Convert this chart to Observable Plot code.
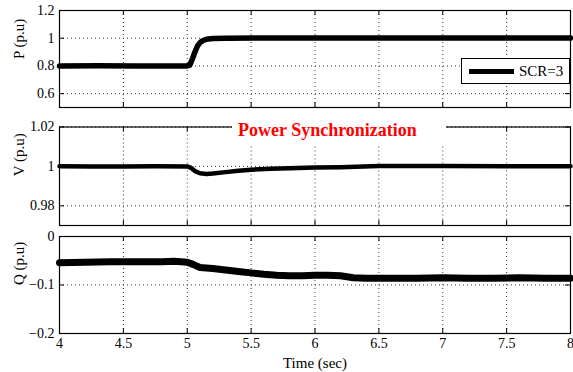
<!DOCTYPE html>
<html><head><meta charset="utf-8">
<script src="https://cdn.jsdelivr.net/npm/d3@7"></script>
<script src="https://cdn.jsdelivr.net/npm/@observablehq/plot@0.6"></script>
<style>
body{margin:0;background:#fff;}
#chart{position:relative;width:573px;height:372px;overflow:hidden;background:#fff;font-family:"Liberation Serif","Tinos","Times New Roman","DejaVu Serif",serif;}
#chart svg{position:absolute;left:0;}
#legend{position:absolute;left:461px;top:58px;width:107px;height:24px;border:1px solid #000;background:#fff;box-sizing:content-box;}
#legend .sw{position:absolute;left:7px;top:10px;width:45px;height:5px;background:#000;}
#legend .lt{position:absolute;left:57px;top:2px;font-size:15px;line-height:20px;color:#000;}
#note{position:absolute;left:232px;top:120px;width:214px;height:26px;background:#fff;color:#f00;font-weight:bold;font-size:18px;line-height:20px;padding-left:6px;box-sizing:border-box;}
</style></head><body><div id="chart"></div>
<script>
// ---- data ----
const xTicks = [4, 4.5, 5, 5.5, 6, 6.5, 7, 7.5, 8];

const pTime = [4, 4.3, 4.6, 4.9, 5.0, 5.02, 5.04, 5.06, 5.08, 5.10, 5.12, 5.15, 5.2, 5.3, 5.6, 6, 6.5, 7, 7.5, 8];
const pVal  = [0.8, 0.801, 0.799, 0.8, 0.8, 0.806, 0.85, 0.9, 0.944, 0.968, 0.982, 0.993, 0.998, 1.0, 1.002, 1.001, 1.002, 1.001, 1.002, 1.001];
const pTicks = [0.6, 0.8, 1, 1.2];

const vTime = [4, 4.25, 4.5, 4.75, 5.0, 5.03, 5.06, 5.1, 5.15, 5.2, 5.3, 5.4, 5.5, 5.65, 5.8, 6.0, 6.2, 6.5, 7, 7.5, 8];
const vVal  = [1.0001, 0.9999, 1.0, 1.0001, 1.0, 0.9993, 0.9976, 0.9965, 0.9962, 0.9964, 0.9971, 0.9978, 0.9983, 0.9988, 0.9991, 0.9994, 0.9996, 1.0002, 1.0002, 1.0001, 1.0001];
const vTicks = [0.98, 1, 1.02];

const qTime = [4, 4.2, 4.4, 4.6, 4.8, 4.9, 5.0, 5.05, 5.1, 5.2, 5.3, 5.4, 5.5, 5.6, 5.7, 5.8, 5.9, 6.0, 6.1, 6.2, 6.3, 6.4, 6.6, 6.8, 7.0, 7.2, 7.4, 7.6, 7.8, 8.0];
const qVal  = [-0.054, -0.053, -0.052, -0.052, -0.052, -0.051, -0.053, -0.058, -0.064, -0.066, -0.069, -0.072, -0.075, -0.078, -0.080, -0.081, -0.081, -0.080, -0.080, -0.081, -0.085, -0.086, -0.086, -0.086, -0.085, -0.086, -0.086, -0.085, -0.086, -0.086];
const qTicks = [-0.2, -0.1, 0];

const labels = ["P (p.u)", "V (p.u)", "Q (p.u)"];
const xLabel = "Time (sec)";
const legendLabel = "SCR=3";
const noteText = "Power Synchronization";

// ---- drawing ----
const W = 573, ML = 59, MR = 3;
const FONT = '"Liberation Serif","Tinos","Times New Roman","DejaVu Serif",serif';
const fmt = d3.format("~g");
const chart = document.getElementById("chart");

function panel(times, vals, yDomain, yTicks, label, top, height, mt, mb, sw, showX) {
  const data = times.map((t, i) => ({t, v: vals[i]}));
  const innerH = height - mt - mb, innerW = W - ML - MR;
  const marks = [
    Plot.gridX(xTicks, {stroke: "#333", strokeOpacity: 1, strokeDasharray: "1,3"}),
    Plot.gridY(yTicks, {stroke: "#333", strokeOpacity: 1, strokeDasharray: "1,3"}),
    Plot.line(data, {x: "t", y: "v", stroke: "#000", strokeWidth: sw, strokeLinejoin: "round", strokeLinecap: "round"}),
    Plot.tickX(xTicks, {x: d => d, stroke: "#000", insetBottom: innerH - 5}),
    Plot.tickX(xTicks, {x: d => d, stroke: "#000", insetTop: innerH - 5}),
    Plot.tickY(yTicks, {y: d => d, stroke: "#000", insetRight: innerW - 5}),
    Plot.tickY(yTicks, {y: d => d, stroke: "#000", insetLeft: innerW - 5}),
    Plot.frame({stroke: "#000", strokeWidth: 1.2}),
    Plot.axisY(yTicks, {tickSize: 0, tickPadding: 5, tickFormat: fmt, label: null, fontSize: 14}),
    Plot.text([label], {frameAnchor: "left", rotate: -90, dx: -40, fontSize: 15, text: d => d, lineAnchor: "middle"})
  ];
  if (showX) {
    marks.push(Plot.axisX(xTicks, {tickSize: 0, tickPadding: 5, tickFormat: fmt, label: null, fontSize: 14}));
    marks.push(Plot.text([xLabel], {frameAnchor: "bottom", dy: 30, fontSize: 15, text: d => d, lineAnchor: "middle"}));
  }
  const xOpt = showX ? {domain: [4, 8]} : {domain: [4, 8], axis: null};
  const svg = Plot.plot({
    width: W, height,
    marginLeft: ML, marginRight: MR, marginTop: mt, marginBottom: mb,
    x: xOpt,
    y: {domain: yDomain},
    style: {fontFamily: FONT, fontSize: "14px", color: "#000", background: "transparent", overflow: "visible"},
    marks
  });
  svg.style.top = top + "px";
  svg.style.fontFamily = FONT;
  chart.appendChild(svg);
}

panel(pTime, pVal, [0.5, 1.2], pTicks, labels[0], 0, 115, 10, 8, 5.5, false);
panel(vTime, vVal, [0.97, 1.02], vTicks, labels[1], 115, 118, 11.5, 8, 4.5, false);
panel(qTime, qVal, [-0.2, 0], qTicks, labels[2], 233, 139, 3, 39, 7, true);

const legend = document.createElement("div");
legend.id = "legend";
legend.innerHTML = '<div class="sw"></div><div class="lt"></div>';
legend.querySelector(".lt").textContent = legendLabel;
chart.appendChild(legend);

const note = document.createElement("div");
note.id = "note";
note.textContent = noteText;
chart.appendChild(note);
</script>
</body></html>
